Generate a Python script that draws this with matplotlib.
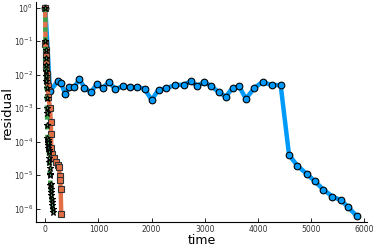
import numpy as np
import matplotlib
matplotlib.use("Agg")
import matplotlib.pyplot as plt

# series 1 (blue, circles)
t_blue = [0, 89, 232, 296, 377, 453, 547, 642, 736, 858, 975, 1081, 1194, 1321, 1453,
          1585, 1723, 1868, 2000, 2132, 2277, 2434, 2604, 2736, 2862, 2987, 3113, 3264,
          3396, 3523, 3647, 3774, 3930, 4089, 4258, 4428, 4585, 4742, 4919, 5075, 5232,
          5402, 5560, 5704, 5862]
r_blue = [1.0, 3.2e-3, 6.3e-3, 5.6e-3, 2.6e-3, 4.2e-3, 4.2e-3, 7.4e-3, 4.1e-3, 3.0e-3,
          5.3e-3, 3.9e-3, 6.0e-3, 3.7e-3, 4.5e-3, 4.2e-3, 4.3e-3, 3.8e-3, 1.75e-3, 3.6e-3,
          3.9e-3, 4.9e-3, 5.0e-3, 6.3e-3, 4.7e-3, 5.9e-3, 4.7e-3, 3.0e-3, 2.2e-3, 4.0e-3,
          4.5e-3, 1.9e-3, 4.0e-3, 6.1e-3, 4.9e-3, 4.9e-3, 4.1e-5, 1.9e-5, 1.1e-5, 6.5e-6,
          3.7e-6, 2.3e-6, 1.8e-6, 1.1e-6, 5.9e-7]

# series 2 (orange, squares)
t_orange = [0, 4, 7, 11, 15, 20, 26, 34, 45, 60, 88, 105, 110, 112, 135, 170, 210,
            240, 255, 275, 285, 290, 300]
r_orange = [1.0, 8.4e-2, 5.6e-2, 3.7e-2, 2.5e-2, 1.6e-2, 1.07e-2, 7.1e-3, 4.7e-3,
            2.2e-3, 1.0e-3, 3.8e-4, 1.7e-4, 6.4e-5, 4.4e-5, 3.3e-5, 2.5e-5, 2.0e-5,
            1.7e-5, 9.7e-6, 7.4e-6, 4.0e-6, 7.1e-7]

# series 3 (green, stars)
t_green = [0, 3, 6, 9, 12, 15, 18, 21, 24, 27, 30, 33, 36, 40, 44, 48, 52, 56, 60, 64,
           68, 72, 76, 80, 85, 90, 95, 100, 105, 110, 115, 120, 125, 130, 140, 150]
r_green = [1.0, 1.0e-1, 5.6e-2, 3.2e-2, 2.0e-2, 1.3e-2, 8.9e-3, 6.3e-3, 4.0e-3, 2.0e-3,
           1.0e-3, 7.1e-4, 3.2e-4, 1.3e-4, 1.0e-4, 1.1e-4, 7.9e-5, 6.3e-5, 8.9e-5,
           5.6e-5, 5.0e-5, 3.2e-5, 2.5e-5, 1.6e-5, 1.1e-5, 1.0e-5, 5.0e-6, 5.6e-6,
           4.0e-6, 3.2e-6, 2.5e-6, 2.0e-6, 1.6e-6, 1.3e-6, 1.0e-6, 7.9e-7]

xticks = [0, 1000, 2000, 3000, 4000, 5000, 6000]
yticks = [1e-6, 1e-5, 1e-4, 1e-3, 1e-2, 1e-1, 1e0]
ytick_labels = [r"$10^{-6}$", r"$10^{-5}$", r"$10^{-4}$", r"$10^{-3}$",
                r"$10^{-2}$", r"$10^{-1}$", r"$10^{0}$"]

blue = "#009AFA"
orange = "#E26F46"
green = "#3DA44E"

fig = plt.figure(figsize=(3.74, 2.49), dpi=100)
ax = fig.add_axes([0.096, 0.108, 0.885, 0.884])

ax.plot(t_blue, r_blue, color=blue, lw=3.2, marker="o", ms=4.8,
        mfc=blue, mec="black", mew=0.8, zorder=2)
ax.plot(t_orange, r_orange, color=orange, lw=3.2, marker="s", ms=4.8,
        mfc=orange, mec="#333333", mew=0.8, zorder=3)
ax.plot(t_green, r_green, color=green, lw=3.2, ls=(0, (1, 1.2)), marker="*", ms=4.8,
        mfc=green, mec="black", mew=0.8, zorder=4)

ax.set_yscale("log")
ax.set_xlim(-176, 6050)
ax.set_ylim(10 ** -6.4, 10 ** 0.17)
ax.set_xticks(xticks)
ax.set_xticklabels([str(v) for v in xticks])
ax.set_yticks(yticks)
ax.set_yticklabels(ytick_labels)
ax.minorticks_off()

for s in ["top", "right"]:
    ax.spines[s].set_visible(False)
ax.tick_params(direction="in", length=3, width=0.6, labelsize=5.5,
               colors="black", labelcolor="#333333", pad=2)

ax.set_xlabel("time", fontsize=9, labelpad=0)
ax.set_ylabel("residual", fontsize=9.5, labelpad=0)

fig.savefig("out.png", dpi=100)
